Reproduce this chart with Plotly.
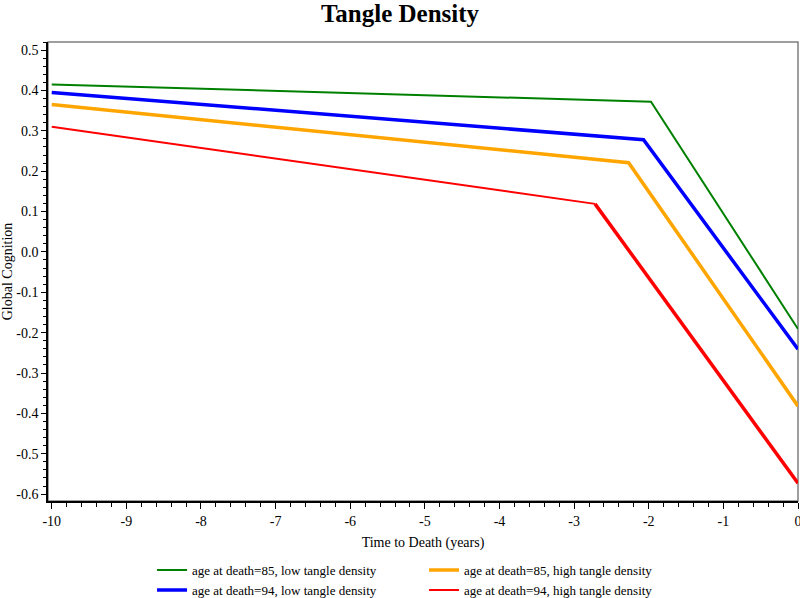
import plotly.graph_objects as go

# Data
series_names = [
    "age at death=85, low tangle density",
    "age at death=85, high tangle density",
    "age at death=94, low tangle density",
    "age at death=94, high tangle density",
]
x_green = [-10, -1.97, 0]
y_green = [0.415, 0.372, -0.191]
x_orange = [-10, -2.27, 0]
y_orange = [0.365, 0.221, -0.382]
x_blue = [-10, -2.07, 0]
y_blue = [0.395, 0.278, -0.241]
x_red = [-10, -2.72, 0]
y_red = [0.310, 0.119, -0.573]

x_ticks = [-10, -9, -8, -7, -6, -5, -4, -3, -2, -1, 0]
y_ticks = [0.5, 0.4, 0.3, 0.2, 0.1, 0.0, -0.1, -0.2, -0.3, -0.4, -0.5, -0.6]

FONT = "Liberation Serif"

fig = go.Figure()
fig.add_trace(go.Scatter(x=x_green, y=y_green, mode="lines", name=series_names[0],
                         line=dict(color="green", width=2)))
fig.add_trace(go.Scatter(x=x_orange, y=y_orange, mode="lines", name=series_names[1],
                         line=dict(color="orange", width=3.5)))
fig.add_trace(go.Scatter(x=x_blue, y=y_blue, mode="lines", name=series_names[2],
                         line=dict(color="blue", width=3.5)))
fig.add_trace(go.Scatter(x=x_red[:2], y=y_red[:2], mode="lines", name=series_names[3],
                         line=dict(color="red", width=2), legendgroup="red"))
fig.add_trace(go.Scatter(x=x_red[1:], y=y_red[1:], mode="lines", name=series_names[3],
                         line=dict(color="red", width=3.5), legendgroup="red", showlegend=False))

fig.update_layout(
    width=800, height=598,
    margin=dict(l=48, r=2, t=42, b=97, autoexpand=False),
    paper_bgcolor="white", plot_bgcolor="white",
    font=dict(family=FONT, size=14, color="black"),
    title=dict(text="<b>Tangle Density</b>", x=0.5, xanchor="center", y=0.978, yanchor="middle",
               font=dict(family=FONT, size=25, color="black")),
    showlegend=True,
    legend=dict(orientation="h", x=0.1387, xanchor="left", y=-0.118, yanchor="top",
                entrywidth=227, entrywidthmode="pixels",
                font=dict(family=FONT, size=13), tracegroupgap=0, itemwidth=30),
    shapes=[dict(type="rect", xref="paper", yref="paper", x0=0, y0=0, x1=1, y1=1,
                 line=dict(color="#7f7f7f", width=1.5), layer="below")],
)
fig.update_xaxes(
    range=[-10.05, 0.0], tickmode="array", tickvals=x_ticks,
    ticktext=[str(v) for v in x_ticks], automargin=False, ticklabeloverflow="allow",
    showgrid=False, zeroline=False, showline=True, linecolor="black", linewidth=1.5,
    ticks="outside", ticklen=6, tickcolor="black", tickwidth=1,
    minor=dict(dtick=0.2, ticks="outside", ticklen=4, tickcolor="black", showgrid=False),
    title=dict(text="Time to Death (years)", font=dict(family=FONT, size=14), standoff=10),
    tickfont=dict(family=FONT, size=14),
)
fig.update_yaxes(
    range=[-0.617, 0.52], tickmode="array", tickvals=y_ticks,
    ticktext=[f"{v:.1f}" for v in y_ticks], automargin=False,
    showgrid=False, zeroline=False, showline=True, linecolor="black", linewidth=1.5,
    ticks="outside", ticklen=5, tickcolor="black", tickwidth=1,
    minor=dict(dtick=0.02, ticks="outside", ticklen=3, tickcolor="black", showgrid=False),
    title=dict(text="Global Cognition", font=dict(family=FONT, size=14), standoff=4),
    tickfont=dict(family=FONT, size=14),
)

fig.write_html("out.html", config={"displayModeBar": False},
               post_script="document.body.style.margin='0';")
